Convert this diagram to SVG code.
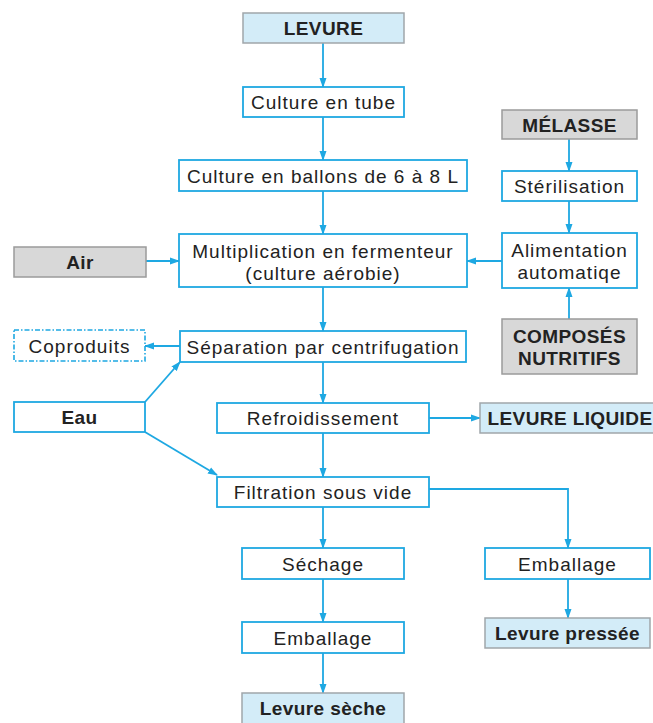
<svg xmlns="http://www.w3.org/2000/svg" width="653" height="723" viewBox="0 0 653 723">
<style>
  .step { fill: #ffffff; stroke: #1ea8e2; stroke-width: 1.8; }
  .prod { fill: #d3ecf8; stroke: #a0a6aa; stroke-width: 1.5; }
  .raw { fill: #d8d8d8; stroke: #9b9b9b; stroke-width: 1.5; }
  .dash { fill: #ffffff; stroke: #1ea8e2; stroke-width: 1.6; stroke-dasharray: 5 2 1.5 2; }
  .t { font-family: "Liberation Sans", Arial, Helvetica, sans-serif; font-size: 19px; letter-spacing: 1px; fill: #222222; text-anchor: middle; }
  .b { font-weight: bold; letter-spacing: 0.4px; }
  .c { fill: none; stroke: #1ea8e2; stroke-width: 1.8; }
</style>
<defs>
  <marker id="ah" markerWidth="10" markerHeight="8" refX="9" refY="4" orient="auto" markerUnits="userSpaceOnUse">
    <path d="M0,0.5 L10,4 L0,7.5 Z" fill="#1ea8e2"/>
  </marker>
</defs>
<rect width="653" height="723" fill="#ffffff"/>

<g id="connectors">
  <path class="c" d="M323,43 V87" marker-end="url(#ah)"/>
  <path class="c" d="M323,117 V160" marker-end="url(#ah)"/>
  <path class="c" d="M323,191 V234" marker-end="url(#ah)"/>
  <path class="c" d="M323,287 V331" marker-end="url(#ah)"/>
  <path class="c" d="M323,362 V403" marker-end="url(#ah)"/>
  <path class="c" d="M323,433 V477" marker-end="url(#ah)"/>
  <path class="c" d="M323,507 V548" marker-end="url(#ah)"/>
  <path class="c" d="M323,579 V622" marker-end="url(#ah)"/>
  <path class="c" d="M323,653 V693" marker-end="url(#ah)"/>
  <path class="c" d="M429,489 H568 V548" marker-end="url(#ah)"/>
  <path class="c" d="M568,579 V618" marker-end="url(#ah)"/>
  <path class="c" d="M569,139 V171" marker-end="url(#ah)"/>
  <path class="c" d="M569,201 V233" marker-end="url(#ah)"/>
  <path class="c" d="M569,319 V288" marker-end="url(#ah)"/>
  <path class="c" d="M502,261 H467" marker-end="url(#ah)"/>
  <path class="c" d="M146,261 H179" marker-end="url(#ah)"/>
  <path class="c" d="M180,346 H145" marker-end="url(#ah)"/>
  <path class="c" d="M145,402 L180,362" marker-end="url(#ah)"/>
  <path class="c" d="M145,432 L217,475" marker-end="url(#ah)"/>
  <path class="c" d="M429,418 H480" marker-end="url(#ah)"/>
</g>

<g id="levure"><rect class="prod" x="243" y="13" width="161" height="30"/><text class="t b" x="323.5" y="34.5">LEVURE</text></g>
<g id="culture-tube"><rect class="step" x="243" y="87" width="161" height="30"/><text class="t" x="323.5" y="108.5">Culture en tube</text></g>
<g id="culture-ballons"><rect class="step" x="179" y="160" width="288" height="31"/><text class="t" x="323" y="182.5">Culture en ballons de 6 à 8 L</text></g>
<g id="multiplication"><rect class="step" x="179" y="234" width="288" height="53"/><text class="t" x="323" y="258">Multiplication en fermenteur</text><text class="t" x="323" y="280">(culture aérobie)</text></g>
<g id="separation"><rect class="step" x="180" y="331" width="286" height="31"/><text class="t" x="323" y="353.5">Séparation par centrifugation</text></g>
<g id="refroidissement"><rect class="step" x="217" y="403" width="212" height="30"/><text class="t" x="323" y="424.5">Refroidissement</text></g>
<g id="filtration"><rect class="step" x="217" y="477" width="212" height="30"/><text class="t" x="323" y="498.5">Filtration sous vide</text></g>
<g id="sechage"><rect class="step" x="242" y="548" width="162" height="31"/><text class="t" x="323" y="570.5">Séchage</text></g>
<g id="emballage1"><rect class="step" x="242" y="622" width="162" height="31"/><text class="t" x="323" y="644.5">Emballage</text></g>
<g id="levure-seche"><rect class="prod" x="242" y="693" width="162" height="32"/><text class="t b" x="323" y="714.5">Levure sèche</text></g>
<g id="emballage2"><rect class="step" x="485" y="548" width="165" height="31"/><text class="t" x="567.5" y="570.5">Emballage</text></g>
<g id="levure-pressee"><rect class="prod" x="485" y="618" width="165" height="30"/><text class="t b" x="567.5" y="639.5">Levure pressée</text></g>
<g id="levure-liquide"><rect class="prod" x="480" y="403" width="178" height="30"/><text class="t b" x="570" y="424.5">LEVURE LIQUIDE</text></g>
<g id="melasse"><rect class="raw" x="502" y="110" width="135" height="29"/><text class="t b" x="569.5" y="131.5">MÉLASSE</text></g>
<g id="sterilisation"><rect class="step" x="502" y="171" width="135" height="30"/><text class="t" x="569.5" y="192.5">Stérilisation</text></g>
<g id="alimentation"><rect class="step" x="502" y="233" width="135" height="55"/><text class="t" x="569.5" y="257">Alimentation</text><text class="t" x="569.5" y="279">automatiqe</text></g>
<g id="composes"><rect class="raw" x="502" y="319" width="135" height="55"/><text class="t b" x="569.5" y="343">COMPOSÉS</text><text class="t b" x="569.5" y="365">NUTRITIFS</text></g>
<g id="air"><rect class="raw" x="14" y="247" width="132" height="30"/><text class="t b" x="80" y="268.5">Air</text></g>
<g id="coproduits"><rect class="dash" x="14" y="330" width="131" height="31"/><text class="t" x="79.5" y="352.5">Coproduits</text></g>
<g id="eau"><rect class="step" x="14" y="402" width="131" height="30"/><text class="t b" x="79.5" y="423.5">Eau</text></g>
</svg>
